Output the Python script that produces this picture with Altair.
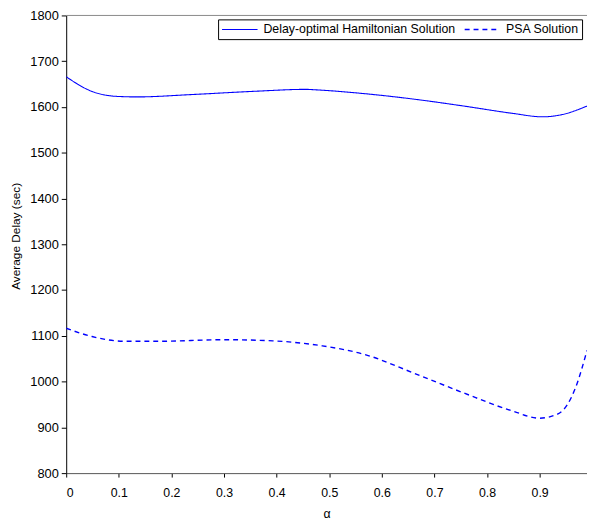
import altair as alt
import pandas as pd

alpha_ham = [0.0, 0.049, 0.099, 0.136, 0.236, 0.362, 0.455, 0.474, 0.568, 0.662, 0.756, 0.849, 0.905, 0.943, 0.99]
delay_ham = [1666, 1634, 1623, 1622, 1627, 1634.5, 1638.5, 1637.5, 1629, 1617, 1602, 1586, 1578.5, 1583.5, 1602]

alpha_psa = [0.0, 0.049, 0.111, 0.174, 0.299, 0.393, 0.487, 0.568, 0.662, 0.756, 0.849, 0.899, 0.936, 0.968, 0.99]
delay_psa = [1116.5, 1098.5, 1088, 1088, 1091.5, 1089, 1078, 1059, 1018, 975, 935.5, 920, 930, 986, 1068]

s_ham = "Delay-optimal Hamiltonian Solution"
s_psa = "PSA Solution"

df = pd.concat([
    pd.DataFrame({"alpha": alpha_ham, "delay": delay_ham, "series": s_ham}),
    pd.DataFrame({"alpha": alpha_psa, "delay": delay_psa, "series": s_psa}),
])

FONT = "Liberation Sans"

leg = dict(title=None, orient="none", legendX=154, legendY=4,
           direction="horizontal", strokeColor="#000000",
           fillColor="#FFFFFF", padding=3,
           symbolType="M-1,0H5", symbolSize=144, symbolStrokeColor="#0000FF",
           symbolStrokeWidth=1.5, labelFontSize=12.5,
           labelFont=FONT, labelColor="#000000", labelLimit=0,
           columnPadding=6, labelOffset=29)

lines = alt.Chart(df).mark_line(interpolate="monotone", clip=True).encode(
    x=alt.X("alpha:Q", title="α",
            scale=alt.Scale(domain=[0, 0.99], nice=False, zero=False),
            axis=alt.Axis(values=[0, 0.1, 0.2, 0.3, 0.4, 0.5, 0.6, 0.7, 0.8, 0.9],
                          format="~g", grid=False, domainColor="#555555",
                          tickColor="#000000", tickSize=4, labelPadding=9.5,
                          labelFontSize=12.5, titleFontSize=12.5,
                          titlePadding=9.5)),
    y=alt.Y("delay:Q", title="Average Delay (sec)",
            scale=alt.Scale(domain=[800, 1800], nice=False, zero=False),
            axis=alt.Axis(values=list(range(800, 1801, 100)), format="d", grid=False,
                          domainColor="#000000", tickColor="#000000", tickSize=5,
                          labelFontSize=13, titleFontSize=12, titleY=223.5,
                          labelPadding=3, titlePadding=7)),
    color=alt.Color("series:N", scale=alt.Scale(domain=[s_ham, s_psa], range=["#0000FF", "#0000FF"]),
                    legend=alt.Legend(**leg)),
    strokeDash=alt.StrokeDash("series:N",
                              scale=alt.Scale(domain=[s_ham, s_psa], range=[[1, 0], [5, 4]]),
                              legend=alt.Legend(**leg)),
    strokeWidth=alt.StrokeWidth("series:N",
                                scale=alt.Scale(domain=[s_ham, s_psa], range=[1.1, 1.4]),
                                legend=None),
)

top = alt.Chart(pd.DataFrame({"y": [1800]})).mark_rule(color="#888888", strokeWidth=1).encode(
    y=alt.Y("y:Q")
)

chart = alt.layer(lines, top).properties(
    width=528, height=464,
    background="#FFFFFF",
    autosize=alt.AutoSizeParams(type="none"),
    padding={"left": 59, "top": 4, "right": 0, "bottom": 46},
).configure_view(stroke=None).configure_axis(
    labelFont=FONT, titleFont=FONT,
    labelColor="#000000", titleColor="#000000", titleFontWeight="normal"
)

chart.save("out.html", embed_options={"renderer": "svg", "actions": False})
